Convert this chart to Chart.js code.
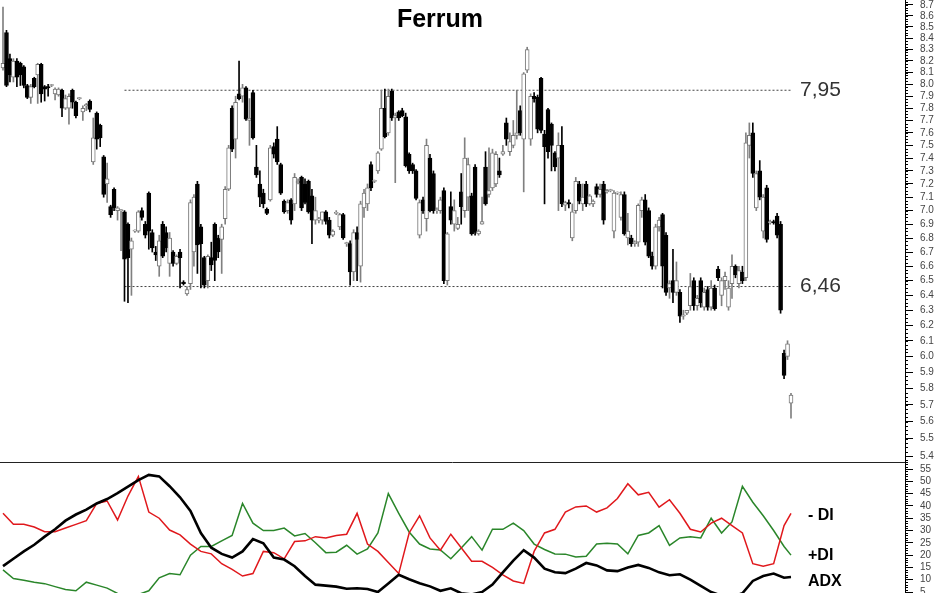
<!DOCTYPE html>
<html>
<head>
<meta charset="utf-8">
<script src="https://cdn.jsdelivr.net/npm/chart.js@4.4.1/dist/chart.umd.min.js"></script>
<style>
  html, body { margin: 0; padding: 0; background: #fff; }
  canvas { display: block; }
</style>
</head>
<body>
<canvas id="priceChart" width="948" height="462"></canvas>
<canvas id="dmiChart" width="948" height="131"></canvas>
<script>
// Ferrum: candles (log scale) with support/resistance lines, DMI panel below.
const title = 'Ferrum';

const opens = [
  8.14,8.45,8.22,8.06,8.20,8.18,8.15,7.99,7.89,8.05,
  8.08,8.17,7.98,7.98,7.99,7.92,7.91,7.95,7.80,7.80,
  7.95,7.85,7.88,7.77,7.82,7.86,7.37,7.76,7.66,7.41,
  7.20,7.03,7.16,7.00,7.00,6.99,6.90,6.72,6.85,6.85,
  7.00,6.90,7.13,6.84,6.70,6.60,6.90,6.84,6.62,6.70,
  6.62,6.70,6.49,6.41,6.48,6.70,7.20,6.88,6.66,6.50,
  6.66,6.90,6.80,6.79,6.94,7.16,7.80,7.55,7.92,7.90,
  7.97,7.70,7.93,7.33,7.20,7.13,7.01,7.08,7.49,7.55,
  7.35,7.07,7.00,7.08,7.05,7.21,7.25,7.20,7.22,7.11,
  6.93,6.93,6.93,6.99,6.93,6.82,6.98,6.88,6.97,6.76,
  6.76,6.56,6.84,6.60,7.02,7.05,7.35,7.22,7.30,7.47,
  7.80,7.60,7.94,7.72,7.77,7.78,7.73,7.43,7.35,7.30,
  6.82,7.08,6.94,7.40,7.28,7.00,7.00,7.15,6.50,7.03,
  6.90,6.87,7.14,7.00,7.10,7.11,7.33,6.83,6.90,7.33,
  7.12,7.17,7.20,7.30,7.43,7.68,7.45,7.50,7.58,7.78,
  7.55,8.12,7.55,7.90,7.89,8.05,7.59,7.79,7.67,7.44,
  7.40,7.50,7.04,7.06,6.80,7.00,7.20,7.05,7.20,7.05,
  7.05,7.18,7.12,7.20,7.14,7.15,6.85,7.13,6.95,7.12,
  6.80,6.80,6.76,6.77,7.00,7.08,7.00,6.67,6.60,6.88,
  6.97,6.82,6.45,6.50,6.42,6.42,6.26,6.28,6.33,6.50,
  6.33,6.50,6.32,6.44,6.32,6.45,6.58,6.40,6.50,6.32,
  6.48,6.60,6.48,6.56,6.52,7.50,7.60,7.02,7.30,6.85,
  7.17,6.91,6.92,6.96,6.90,6.02,6.00,5.71
];
const highs = [
  8.68,8.47,8.26,8.22,8.22,8.19,8.16,8.00,8.00,8.06,
  8.18,8.18,7.99,8.00,8.00,7.97,7.97,7.96,7.91,7.92,
  7.96,7.86,7.89,7.82,7.84,7.87,7.72,7.77,7.67,7.42,
  7.36,7.04,7.17,7.03,7.01,7.00,6.91,6.80,6.86,7.00,
  7.02,6.92,7.14,6.86,6.74,6.82,6.92,6.88,6.84,6.71,
  6.68,6.72,6.50,6.46,7.08,7.12,7.22,6.90,6.67,6.68,
  6.77,6.91,6.82,6.90,7.18,7.50,7.82,7.90,8.20,8.00,
  7.98,7.88,7.95,7.50,7.30,7.16,7.02,7.50,7.52,7.65,
  7.36,7.08,7.08,7.09,7.28,7.24,7.26,7.24,7.23,7.16,
  7.10,6.95,6.99,7.00,6.95,6.86,7.00,6.98,6.98,6.77,
  6.78,6.86,6.88,7.07,7.16,7.20,7.37,7.23,7.45,7.95,
  7.96,7.96,7.96,7.76,7.78,7.80,7.76,7.44,7.36,7.31,
  7.08,7.10,7.55,7.43,7.30,7.02,7.10,7.17,6.84,7.14,
  7.08,6.95,7.28,7.56,7.40,7.13,7.35,6.86,7.10,7.45,
  7.48,7.47,7.45,7.40,7.50,7.72,7.60,7.70,7.95,7.82,
  8.10,8.32,7.92,7.93,7.91,8.06,7.62,7.80,7.68,7.45,
  7.60,7.65,7.07,7.08,7.05,7.25,7.22,7.20,7.22,7.12,
  7.08,7.20,7.20,7.22,7.16,7.16,7.15,7.14,7.14,7.14,
  6.98,6.82,6.78,7.05,7.10,7.12,7.02,6.70,6.90,6.95,
  6.98,6.84,6.50,6.72,6.63,6.44,6.30,6.30,6.55,6.52,
  6.40,6.52,6.45,6.46,6.50,6.47,6.60,6.52,6.56,6.50,
  6.68,6.61,6.60,6.60,7.60,7.68,7.68,7.30,7.38,7.12,
  7.19,6.93,6.93,6.98,6.92,6.04,6.10,5.77
];
const lows = [
  8.12,7.98,8.02,8.02,7.98,7.99,7.97,7.88,7.84,7.97,
  7.84,7.85,7.86,7.90,7.98,7.87,7.90,7.73,7.79,7.67,
  7.80,7.72,7.87,7.70,7.78,7.77,7.35,7.47,7.49,7.10,
  7.06,6.95,7.00,6.93,6.71,6.36,6.35,6.40,6.84,6.84,
  6.93,6.80,6.72,6.70,6.64,6.53,6.66,6.70,6.53,6.60,
  6.61,6.45,6.47,6.40,6.44,6.60,6.55,6.45,6.45,6.45,
  6.57,6.50,6.66,6.55,6.90,7.15,7.45,7.40,7.87,7.85,
  7.70,7.50,7.55,7.25,7.03,7.02,6.97,7.07,7.40,7.35,
  7.12,6.98,6.98,6.90,7.00,7.20,7.00,7.05,6.98,6.76,
  6.90,6.91,6.90,6.90,6.80,6.81,6.97,6.86,6.79,6.74,
  6.47,6.50,6.50,6.49,6.95,7.00,7.15,7.21,7.28,7.46,
  7.56,7.58,7.70,7.21,7.70,7.73,7.33,7.28,7.28,7.08,
  6.80,6.98,6.85,6.99,6.98,6.98,6.98,6.48,6.47,6.90,
  6.85,6.86,6.90,6.95,7.00,6.82,6.82,6.82,6.90,7.04,
  7.10,7.15,7.18,7.25,7.42,7.50,7.42,7.48,7.55,7.58,
  7.14,8.10,7.50,7.85,7.60,7.60,7.05,7.40,7.30,7.30,
  7.00,7.03,7.00,7.02,6.78,6.98,7.05,7.00,7.03,7.04,
  7.03,7.10,7.10,6.90,7.13,7.14,6.80,7.12,6.93,6.82,
  6.75,6.74,6.74,6.74,6.95,6.75,6.66,6.58,6.58,6.85,
  6.45,6.40,6.38,6.35,6.40,6.22,6.24,6.27,6.30,6.30,
  6.30,6.32,6.30,6.30,6.30,6.30,6.50,6.33,6.44,6.30,
  6.38,6.52,6.45,6.48,6.50,7.40,7.25,7.00,7.08,6.80,
  6.77,6.90,6.90,6.80,6.28,5.86,5.98,5.62
];
const closes = [
  8.18,7.99,8.08,8.20,8.06,8.08,7.99,7.89,7.98,7.98,
  8.17,7.92,7.96,7.97,7.99,7.96,7.96,7.80,7.88,7.90,
  7.85,7.74,7.88,7.80,7.83,7.79,7.56,7.55,7.56,7.12,
  7.24,6.97,7.02,7.02,7.00,6.65,6.66,6.78,6.85,6.99,
  6.95,6.82,6.85,6.73,6.68,6.78,6.67,6.73,6.80,6.62,
  6.67,6.66,6.48,6.44,7.06,7.10,6.75,6.76,6.47,6.67,
  6.61,6.64,6.70,6.88,7.16,7.48,7.47,7.85,7.88,7.97,
  7.71,7.72,7.56,7.27,7.10,7.05,6.98,7.48,7.43,7.37,
  7.13,6.99,7.06,6.93,7.25,7.22,7.02,7.06,6.99,6.93,
  7.00,6.93,6.99,6.92,6.82,6.85,6.98,6.97,6.80,6.76,
  6.56,6.84,6.79,7.05,7.13,7.17,7.17,7.22,7.44,7.80,
  7.57,7.90,7.72,7.74,7.72,7.74,7.34,7.30,7.30,7.09,
  7.06,7.00,7.50,7.00,7.00,7.00,7.08,6.50,6.83,6.93,
  7.00,6.90,7.03,7.40,7.35,6.83,6.84,6.85,6.92,7.05,
  7.15,7.44,7.43,7.27,7.45,7.55,7.53,7.58,7.60,7.60,
  8.09,8.30,7.90,7.88,7.63,7.62,7.49,7.45,7.50,7.33,
  7.50,7.05,7.06,7.05,6.99,7.22,7.07,7.10,7.05,7.11,
  7.07,7.12,7.16,6.93,7.15,7.15,7.13,7.13,7.12,6.83,
  6.85,6.76,6.77,7.04,7.08,6.77,6.67,6.60,6.88,6.93,
  6.60,6.42,6.48,6.42,6.50,6.26,6.27,6.30,6.46,6.33,
  6.38,6.35,6.42,6.32,6.45,6.31,6.52,6.50,6.53,6.45,
  6.60,6.54,6.57,6.50,7.52,7.58,7.28,7.28,7.10,7.10,
  6.79,6.92,6.91,6.82,6.30,5.88,6.08,5.76
];

// horizontal support / resistance levels and the candle they start from
const levels = [7.95, 6.46];
const levelFrom = 35;

const priceTicks = [
  5.4,5.5,5.6,5.7,5.8,5.9,6.0,6.1,6.2,6.3,6.4,6.5,6.6,6.7,6.8,6.9,7.0,
  7.1,7.2,7.3,7.4,7.5,7.6,7.7,7.8,7.9,8.0,8.1,8.2,8.3,8.4,8.5,8.6,8.7
];
const dmiTicks = [5, 10, 15, 20, 25, 30, 35, 40, 45, 50, 55];

// DMI values read every third session (last one on the final session)
const dmiDays = [...Array.from({ length: 76 }, (_, k) => k * 3), 227];
const adx = [
  15.5,18.5,21.5,24.2,27.5,30.5,34,36.5,38.5,41,
  42.8,45.2,47.8,50.5,52.6,52,48,43.5,38,29,
  23,20.5,19,21.5,26.5,24.8,19,18.2,15.5,11.5,
  8,7.6,7.2,6.3,6.5,6.2,5,8.5,12,10.2,
  8.6,7.3,5.5,6.5,4.5,4,5,8,13,17.8,
  22,19,14.5,13,12.7,14.5,16.8,15.8,13.8,13.5,
  15,16,14.8,13,11.8,12.2,10,7.5,5,3.5,
  3,4.5,9.5,11.5,12.5,10.8,11.1
];
const minusDI = [
  37,32.5,32.5,31.4,29.5,29.5,31,32.5,34,41,
  42,34.3,44,52,37.5,35,30.2,28.2,24.5,21.5,
  20.5,16.5,14.2,11.5,12.5,21.5,21,18.5,25.5,25.8,
  27.5,27,28,28.5,37,24.5,21.5,17,12.5,29,
  36,27,22,28.5,23,17.5,17.5,15,12,9.5,
  8.5,21.5,29,30.5,37.5,39.6,40,37.5,39.2,43,
  49,44.5,45.5,39.5,42.5,37,30.5,29.4,33,35,
  32,29,16.5,15.5,16.5,32,37
];
const plusDI = [
  14,10.5,9.8,9,8.4,7.2,6,5.5,9,7.8,
  6.6,4.4,4,4,5.5,10.8,12.5,12,20,23.5,
  23.5,25.8,28,41,33,30,30,31,27.8,28.8,
  25,21,21.2,24,20.4,22.5,29,45,37,29.4,
  24.5,22.5,22.1,18.5,22.9,27.5,22,30.5,30.5,33,
  30,24.5,22.3,20.5,20.4,19.2,19.5,24.5,24.8,24.5,
  20.5,28,29,32,24,27,27.5,27,35,29,
  33.5,48,41.5,36,30,23.5,20
];

Chart.defaults.font.family = '"Liberation Sans", Arial, sans-serif';
Chart.defaults.animation = false;

const N = closes.length;
const step = 788 / (N - 1);          // px per session, first candle at x=3
const xMin = -3 / step;
const xMax = xMin + 905 / step;
const axisW = 43;

const isUp = closes.map((c, i) => c >= opens[i]);
const bodies = closes.map((c, i) => ({ x: i, y: [opens[i], c] }));
const wicks = closes.map((c, i) => ({ x: i, y: [lows[i], highs[i]] }));

function fixAxis(s) {
  s.width = axisW;
  s.paddingTop = 0;
  s.paddingBottom = 0;
}

function minorTicks(chart, values, len) {
  const y = chart.scales.y;
  const ctx = chart.ctx;
  ctx.save();
  ctx.strokeStyle = '#000';
  ctx.lineWidth = 1;
  ctx.beginPath();
  values.forEach(v => {
    const py = Math.round(y.getPixelForValue(v)) + 0.5;
    ctx.moveTo(y.left, py);
    ctx.lineTo(y.left + len, py);
  });
  ctx.stroke();
  ctx.restore();
}

const pricePlugin = {
  id: 'priceDecor',
  afterDraw(chart) {
    const { ctx, scales: { x, y } } = chart;
    // minor ticks every 0.025
    const minors = [];
    for (let v = 5.375; v <= 8.75; v += 0.025) minors.push(v);
    minorTicks(chart, minors, 3);

    ctx.save();
    ctx.fillStyle = '#000';
    ctx.font = 'bold 25px "Liberation Sans", Arial, sans-serif';
    ctx.textAlign = 'center';
    ctx.textBaseline = 'middle';
    ctx.fillText(title, 440, 20);

    ctx.fillStyle = '#333';
    ctx.font = '21px "Liberation Sans", Arial, sans-serif';
    ctx.textAlign = 'left';
    levels.forEach(v => {
      ctx.fillText(v.toFixed(2).replace('.', ','), x.getPixelForValue(N - 1) + 9, y.getPixelForValue(v));
    });
    ctx.restore();
  }
};

new Chart(document.getElementById('priceChart'), {
  type: 'bar',
  data: {
    datasets: [
      {
        label: 'body', data: bodies, order: 0, grouped: false,
        barThickness: 4, minBarLength: 1, borderWidth: 1, borderSkipped: false,
        backgroundColor: isUp.map(u => (u ? '#fff' : '#000')),
        borderColor: isUp.map(u => (u ? '#777' : '#000')),
      },
      {
        label: 'wick', data: wicks, order: 1, grouped: false,
        barThickness: 1, borderWidth: 0,
        backgroundColor: isUp.map(u => (u ? '#808080' : '#000')),
      },
      ...levels.map(v => ({
        type: 'line', label: String(v), order: 2,
        data: [{ x: levelFrom, y: v }, { x: N - 1, y: v }],
        borderColor: '#444', borderWidth: 1, borderDash: [2, 2], pointRadius: 0,
      })),
    ]
  },
  options: {
    responsive: false,
    devicePixelRatio: 1,
    events: [],
    layout: { padding: 0 },
    plugins: { legend: { display: false }, tooltip: { enabled: false } },
    scales: {
      x: { type: 'linear', min: xMin, max: xMax, offset: false, display: false },
      y: {
        type: 'logarithmic', position: 'right', min: 5.366, max: 8.746, bounds: 'data',
        afterBuildTicks(s) { s.ticks = priceTicks.map(v => ({ value: v })); },
        afterFit: fixAxis,
        grid: { drawOnChartArea: false, tickLength: 8, color: '#000', tickColor: '#000' },
        border: { display: true, color: '#000', width: 1 },
        ticks: {
          autoSkip: false, padding: 7, color: '#444', font: { size: 10 },
          callback: v => Number(v).toFixed(1)
        }
      }
    }
  },
  plugins: [pricePlugin]
});

const dmiPlugin = {
  id: 'dmiDecor',
  afterDraw(chart) {
    const { ctx, scales: { x, y } } = chart;
    const minors = [];
    for (let v = 4; v <= 58; v++) if (v % 5) minors.push(v);
    minorTicks(chart, minors, 3);

    ctx.save();
    // separator between the two panels
    ctx.strokeStyle = '#222';
    ctx.lineWidth = 1;
    ctx.beginPath();
    ctx.moveTo(0, 0.5);
    ctx.lineTo(y.left, 0.5);
    ctx.stroke();

    ctx.fillStyle = '#000';
    ctx.font = 'bold 16px "Liberation Sans", Arial, sans-serif';
    ctx.textAlign = 'left';
    ctx.textBaseline = 'middle';
    const lx = x.getPixelForValue(N - 1) + 17;
    ctx.fillText('- DI', lx, y.getPixelForValue(minusDI[minusDI.length - 1]) + 2);
    ctx.fillText('+DI', lx, y.getPixelForValue(plusDI[plusDI.length - 1]));
    ctx.fillText('ADX', lx, y.getPixelForValue(adx[adx.length - 1]) + 5);
    ctx.restore();
  }
};

const toPoints = vals => vals.map((v, k) => ({ x: dmiDays[k], y: v }));

new Chart(document.getElementById('dmiChart'), {
  type: 'line',
  data: {
    datasets: [
      { label: 'ADX', data: toPoints(adx), borderColor: '#000', borderWidth: 2.6, pointRadius: 0, tension: 0 },
      { label: '-DI', data: toPoints(minusDI), borderColor: '#e0181c', borderWidth: 1.5, pointRadius: 0, tension: 0 },
      { label: '+DI', data: toPoints(plusDI), borderColor: '#2a862a', borderWidth: 1.5, pointRadius: 0, tension: 0 },
    ]
  },
  options: {
    responsive: false,
    devicePixelRatio: 1,
    events: [],
    layout: { padding: 0 },
    plugins: { legend: { display: false }, tooltip: { enabled: false } },
    scales: {
      x: { type: 'linear', min: xMin, max: xMax, offset: false, display: false },
      y: {
        type: 'linear', position: 'right', min: 4.6, max: 57.85, bounds: 'data',
        afterBuildTicks(s) { s.ticks = dmiTicks.map(v => ({ value: v })); },
        afterFit: fixAxis,
        grid: { drawOnChartArea: false, tickLength: 8, color: '#000', tickColor: '#000' },
        border: { display: true, color: '#000', width: 1 },
        ticks: { autoSkip: false, padding: 7, color: '#444', font: { size: 10 } }
      }
    }
  },
  plugins: [dmiPlugin]
});
</script>
</body>
</html>
